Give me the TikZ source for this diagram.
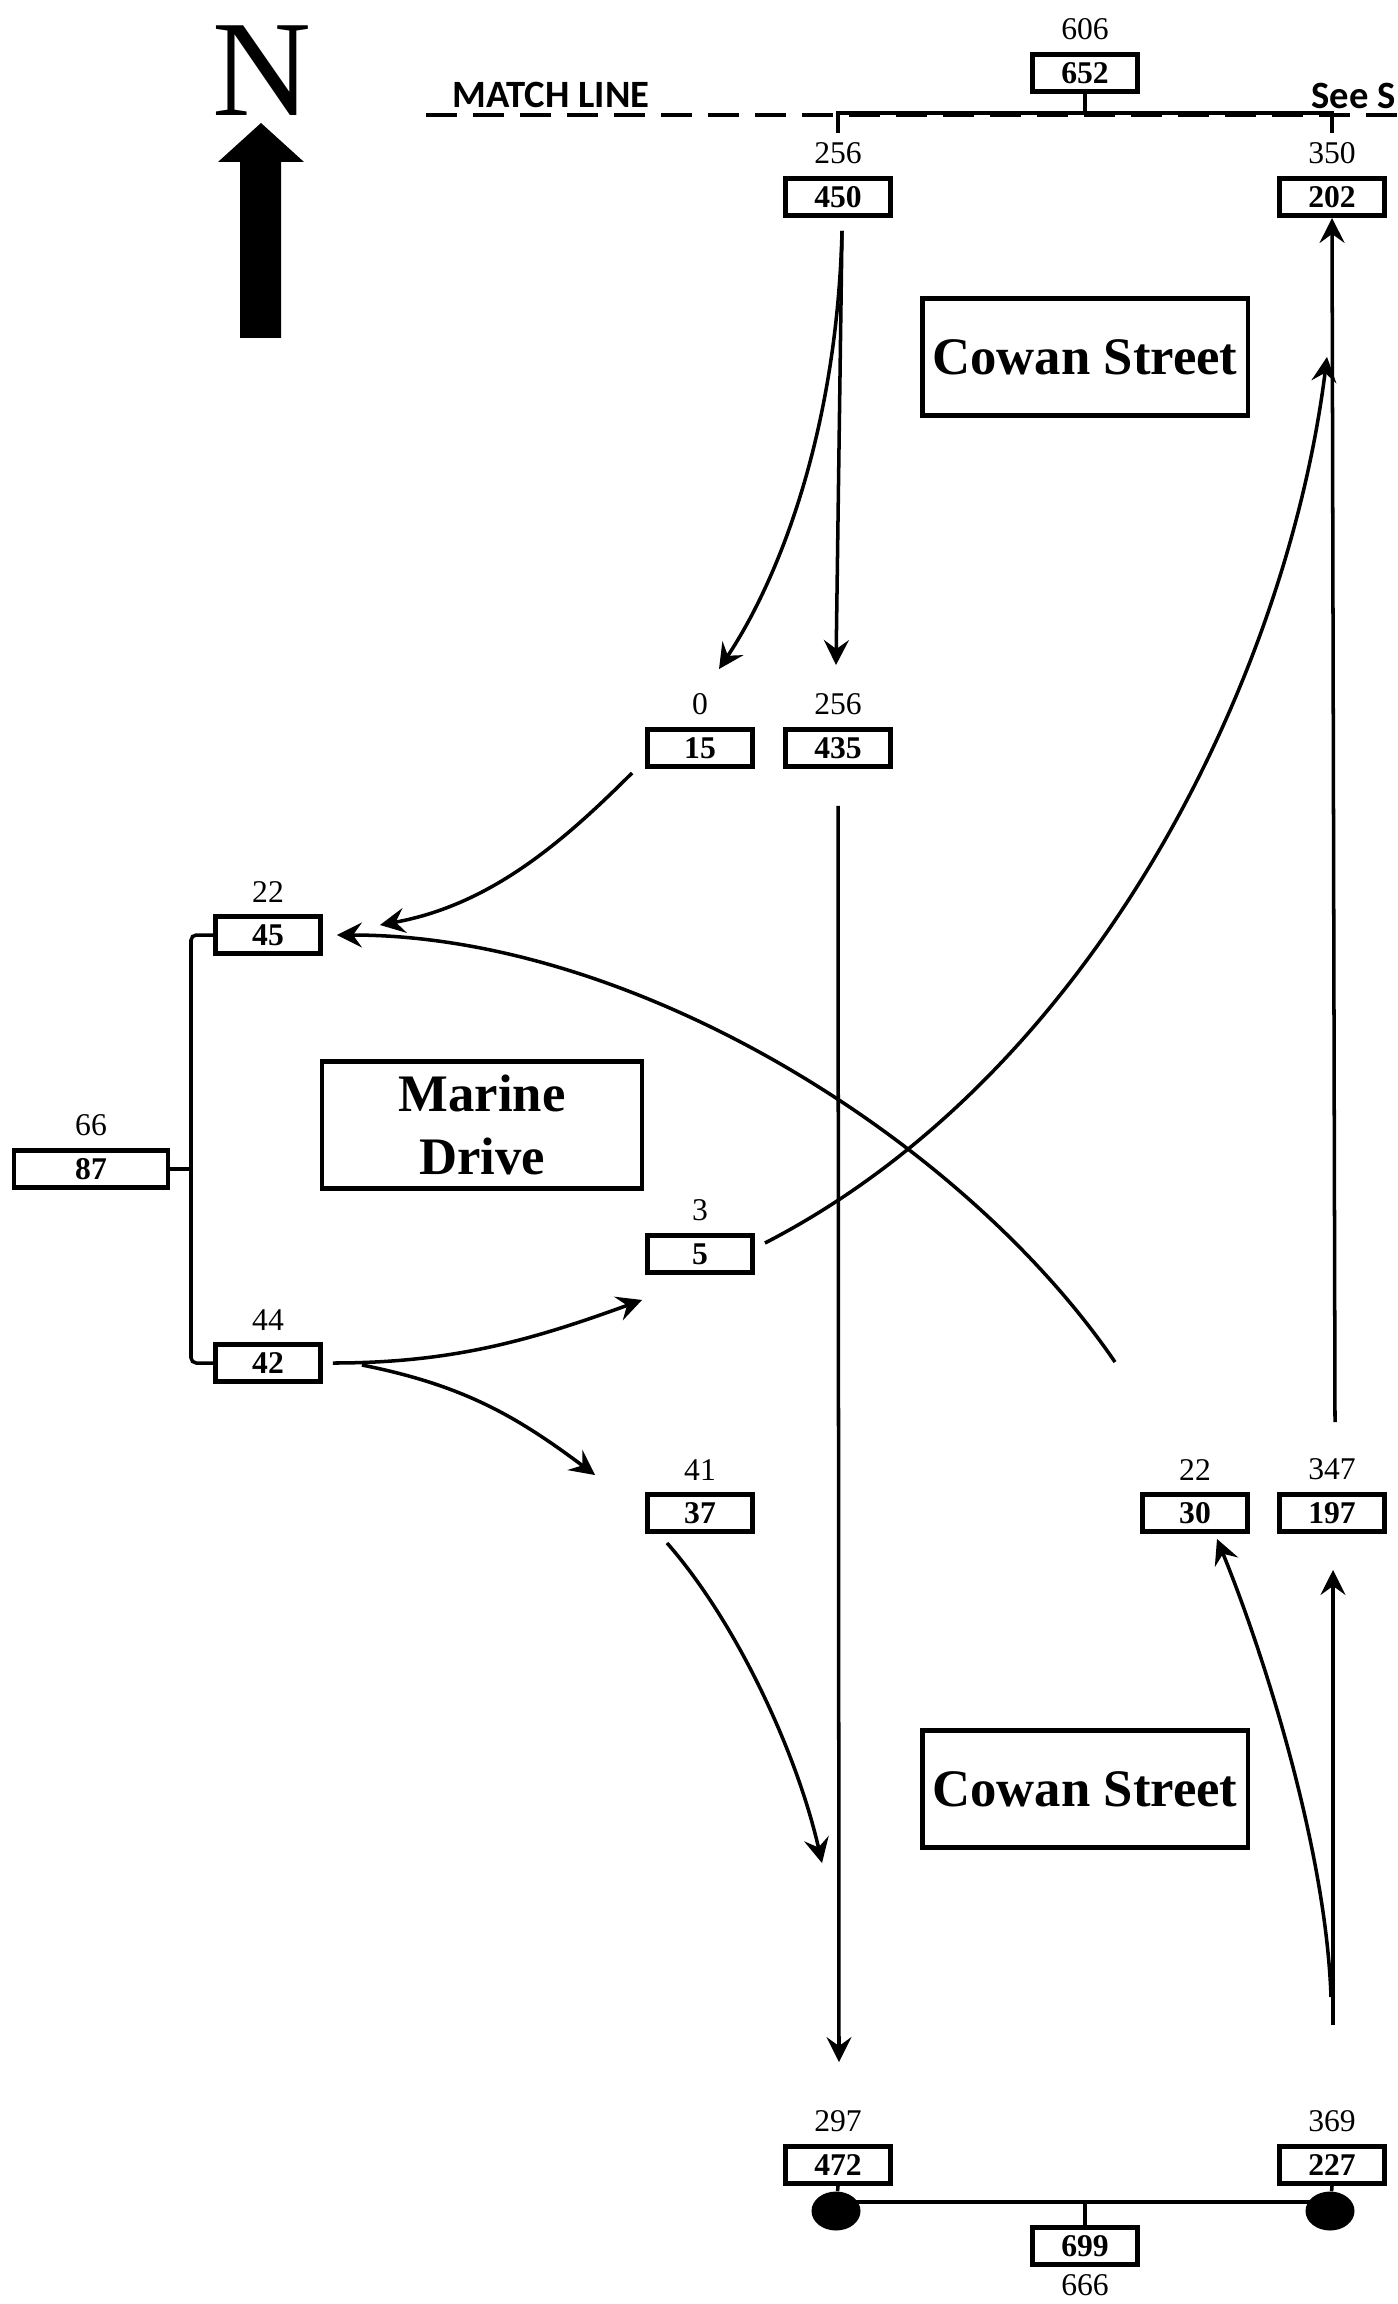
\documentclass[tikz,border=0pt]{standalone}
\usepackage{fontspec}
\setmainfont{Liberation Serif}
\newfontfamily\matchfont{Carlito}
\usetikzlibrary{arrows.meta, shapes.geometric}

\newcommand\cntfont{\fontsize{18}{18}\selectfont}
\newcommand\volfont{\fontsize{18}{18}\selectfont\bfseries}
\newcommand\roadfont{\fontsize{30}{36}\selectfont\bfseries}

\begin{document}
\begin{tikzpicture}[x=0.02cm, y=-0.02cm,
  cell/.style={draw, line width=2.8pt, minimum width=2.1cm, minimum height=0.74cm, inner sep=0pt, font=\volfont},
  v/.style={cell, label={[font=\cntfont, inner sep=0pt, yshift=6.5pt]above:#1}},
  vb/.style={cell, label={[font=\cntfont, inner sep=0pt, yshift=-4pt]below:#1}},
  road/.style={draw, line width=2.8pt, font=\roadfont, align=center, inner sep=0pt, minimum width=6.52cm, minimum height=2.34cm},
  tag/.style={font=\matchfont\bfseries\fontsize{22}{22}\selectfont, inner sep=0pt},
  flow/.style={line width=2pt, -{Stealth[length=0.5cm, width=0.5cm, inset=0.18cm]}},
  link/.style={line width=2pt},
  dot/.style={ellipse, fill, minimum width=0.98cm, minimum height=0.78cm, inner sep=0pt}]
  \useasboundingbox (0,0) rectangle (1398,2304);

  \node (north) at (262,71) {\fontsize{78}{78}\selectfont N};
  \fill (240,338) -- (240,162) -- (218,162) -- (261,123) -- (304,162) -- (281,162) -- (281,338) -- cycle;
  \node[tag] (match) at (551,95) {MATCH LINE};
  \node[tag, anchor=west] (see) at (1311,96) {See S};
  \draw[line width=2.3pt, dash pattern=on 0.62cm off 0.32cm] (426,115) -- (1398,115);

  \node[v=606] (n652) at (1085,73) {652};
  \node[v=256] (n450) at (838,197) {450};
  \node[v=350] (n202) at (1332,197) {202};
  \node[road] (cowan1) at (1085,357) {Cowan Street};
  \node[v=0] (n15) at (700,748) {15};
  \node[v=256] (n435) at (838,748) {435};
  \node[v=22] (n45) at (268,935) {45};
  \node[v=66, minimum width=3.08cm] (n87) at (91,1169) {87};
  \node[road, minimum width=6.4cm, minimum height=2.54cm] (marine) at (482,1125) {Marine\\Drive};
  \node[v=3] (n5) at (700,1254) {5};
  \node[v=44] (n42) at (268,1363) {42};
  \node[v=41] (n37) at (700,1513) {37};
  \node[v=22] (n30) at (1195,1513) {30};
  \node[v=347] (n197) at (1332,1513) {197};
  \node[road] (cowan2) at (1085,1789) {Cowan Street};
  \node[v=297] (n472) at (838,2165) {472};
  \node[v=369] (n227) at (1332,2165) {227};
  \node[dot] (d1) at (836,2211) {};
  \node[dot] (d2) at (1330,2211) {};
  \node[vb=666] (n699) at (1085,2246) {699};

  \coordinate (mt) at (0,113);
  \coordinate (mb) at (0,133);
  \draw[link] (n450 |- mb) -- (n450 |- mt) -- (n202 |- mt) -- (n202 |- mb);
  \draw[link] (n652.south) -- (n652 |- mt);
  \coordinate (lx) at (191,1169);
  \draw[link, rounded corners=3pt] (n45.west) -| (lx) |- (n42.west);
  \draw[link] (n87.east) -- (lx);
  \coordinate (bl) at (0,2202);
  \draw[link] (n472.south) -- (d1);
  \draw[link] (n227.south) -- (d2);
  \draw[link] (d1 |- bl) -- (d2 |- bl);
  \draw[link] (n699.north) -- (n699 |- bl);

  \draw[flow] ([shift={(4,13)}]n450.south) .. controls +(-5,200) and +(60,-90) .. ([shift={(19,-58)}]n15.north);
  \draw[flow] ([shift={(4,13)}]n450.south) -- ([shift={(-2,-62)}]n435.north);
  \draw[flow] ([shift={(-13,4)}]n15.south west) .. controls +(-70,70) and +(110,-20) .. ([shift={(57,-10)}]n45.east);
  \draw[flow] ([shift={(-80,-130)}]n30.north) .. controls +(-150,-220) and +(300,0) .. ([shift={(14,0)}]n45.east);
  \draw[flow] ([shift={(10,-11)}]n5.east) .. controls +(330,-170) and +(-40,320) .. ([shift={(-5,139)}]n202.south);
  \draw[flow] ([shift={(3,-70)}]n197.north) -- (n202.south);
  \draw[flow] ([shift={(10,0)}]n42.east) .. controls +(120,0) and +(-110,40) .. ([shift={(-3,25)}]n5.south west);
  \draw[flow] ([shift={(39,2)}]n42.east) .. controls +(100,20) and +(-80,-60) .. ([shift={(-50,-17)}]n37.north west);
  \draw[flow] ([shift={(-33,9)}]n37.south) .. controls +(70,80) and +(-25,-110) .. ([shift={(-16,-281)}]n472.north);
  \draw[flow] ([shift={(0,37)}]n435.south) -- ([shift={(1,-82)}]n472.north);
  \draw[flow] ([shift={(-1,-147)}]n227.north) .. controls +(-5,-150) and +(45,110) .. ([shift={(22,5)}]n30.south);
  \draw[flow] ([shift={(1,-119)}]n227.north) -- ([shift={(1,36)}]n197.south);
\end{tikzpicture}
\end{document}
